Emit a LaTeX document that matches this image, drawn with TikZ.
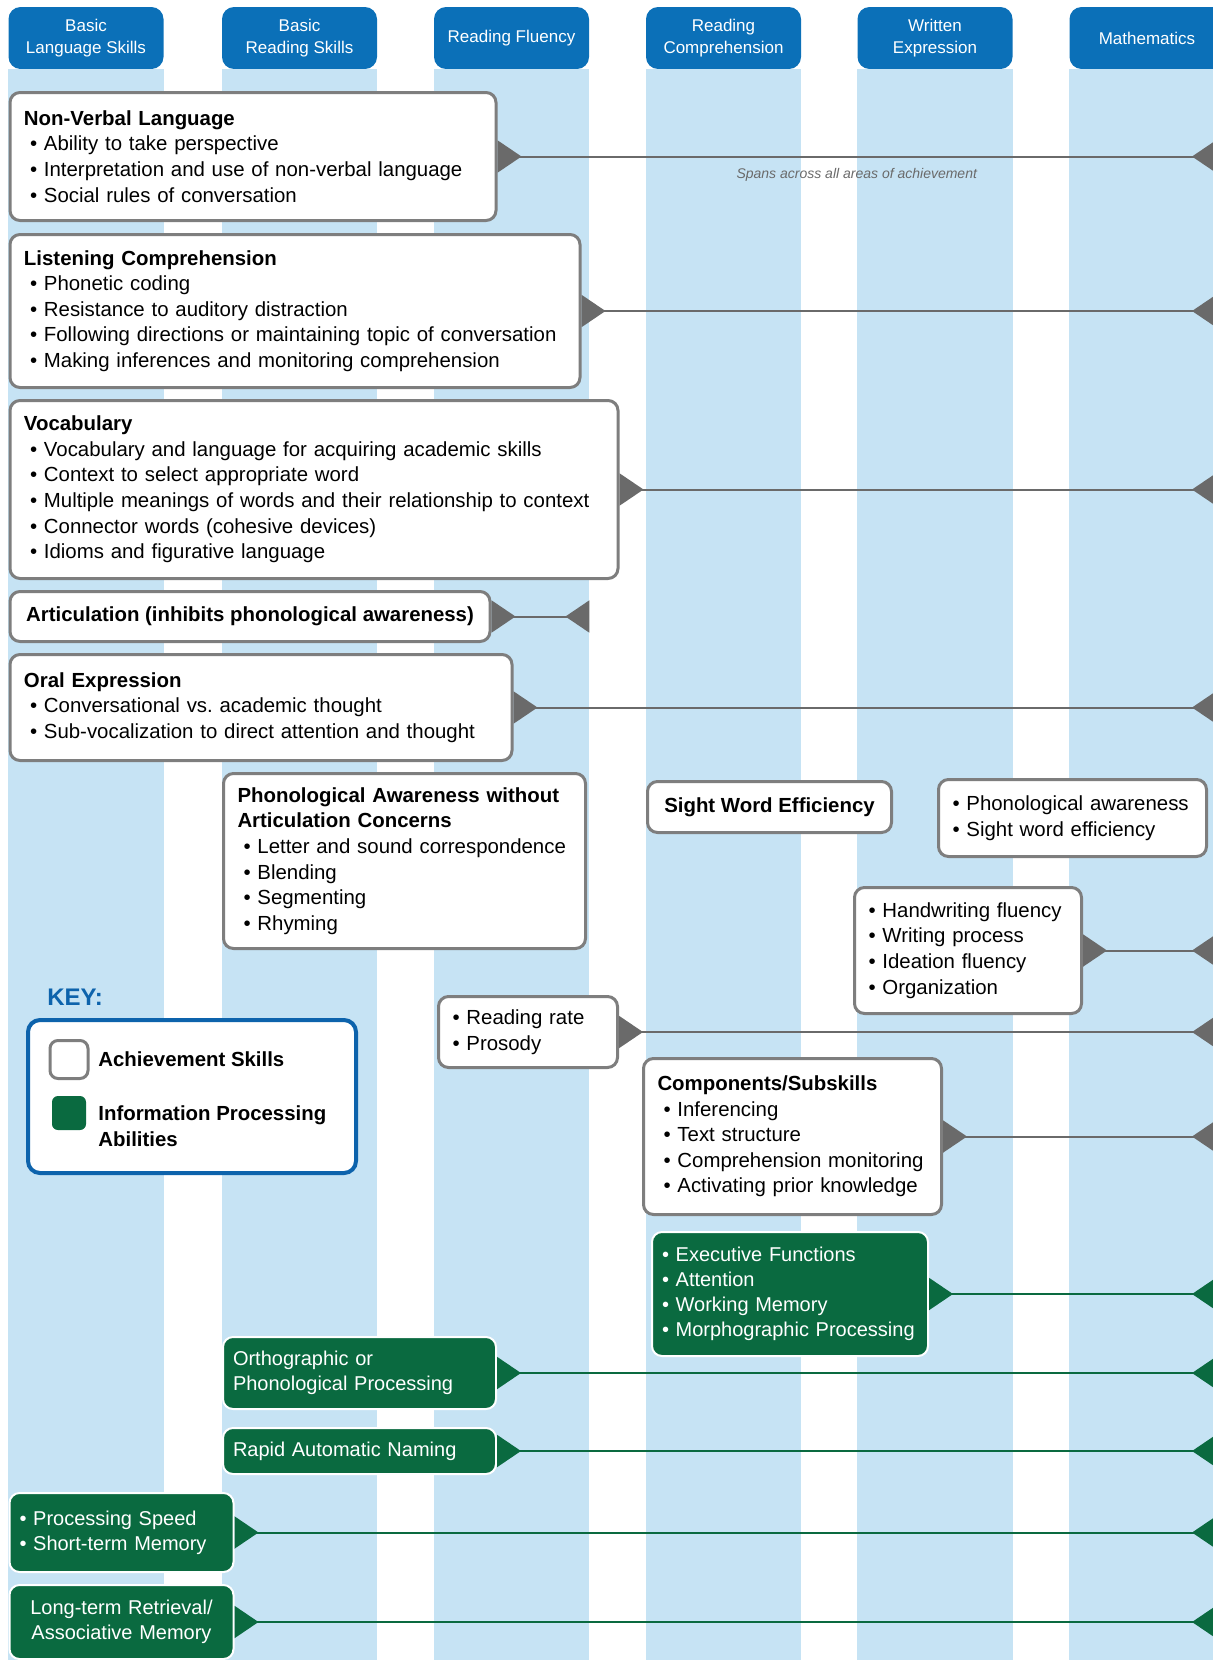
\documentclass[tikz,border=0pt]{standalone}
\usepackage{fontspec}
\setmainfont{Liberation Sans}
\usetikzlibrary{arrows.meta,positioning}
\definecolor{colblue}{HTML}{0B70B8}
\definecolor{stripblue}{HTML}{C6E3F4}
\definecolor{boxgray}{HTML}{7E7E7E}
\definecolor{linkgray}{HTML}{6A6A6A}
\definecolor{ipgreen}{HTML}{0A6A40}
\definecolor{keyblue}{HTML}{0D63AC}
\newcommand{\itm}{\hspace*{3pt}\textbullet\ }
\newcommand{\bul}{\textbullet\ }
\hyphenpenalty=10000
\exhyphenpenalty=10000
\begin{document}
\begin{tikzpicture}[x=0.5pt,y=-0.5pt,
  header/.style={fill=colblue, rounded corners=6pt, text=white, align=center,
    minimum width=77.5pt, minimum height=31pt, font=\fontsize{8.5}{11}\selectfont},
  skill/.style={draw=boxgray, line width=1.5pt, fill=white, rounded corners=5pt,
    anchor=north west, align=left, inner xsep=7pt, inner ysep=0pt,
    font=\fontsize{10.2}{12.8}\selectfont},
  ability/.style={skill, draw=white, line width=1pt, fill=ipgreen, text=white,
    inner xsep=5pt, font=\fontsize{10}{12.6}\selectfont},
  link/.style={draw=linkgray, line width=1pt,
    arrows={Triangle[reversed,length=12pt,width=16pt]-Triangle[reversed,length=12pt,width=16pt]}},
  glink/.style={link, draw=ipgreen}
]
\useasboundingbox (0,0) rectangle (1212,1660);
\coordinate (bottom) at (0,1660);
\coordinate (edge) at (1216,0);

% area headers and their columns
\node[header] (hLang) at (86,38) {Basic\\Language Skills};
\node[header] (hRead) at (299.5,38) {Basic\\Reading Skills};
\node[header] (hFlu) at (511.5,38) {Reading Fluency};
\node[header] (hComp) at (723.5,38) {Reading\\Comprehension};
\node[header] (hWrit) at (935,38) {Written\\Expression};
\node[header] (hMath) at (1147,38) {Mathematics};
\foreach \h in {hLang,hRead,hFlu,hComp,hWrit,hMath}
  \fill[stripblue] (\h.south west) rectangle (\h.south east |- bottom);

% achievement skills
\node[skill, text width=229pt, minimum height=64pt] (nvl) at (8.5,91)
  {\textbf{Non-Verbal Language}\\
   \itm Ability to take perspective\\
   \itm Interpretation and use of non-verbal language\\
   \itm Social rules of conversation};
\node[skill, text width=271pt, minimum height=76.5pt] (lc) at (8.5,233)
  {\textbf{Listening Comprehension}\\
   \itm Phonetic coding\\
   \itm Resistance to auditory distraction\\
   \itm Following directions or maintaining topic of conversation\\
   \itm Making inferences and monitoring comprehension};
\node[skill, text width=290pt, minimum height=89pt] (voc) at (8.5,399)
  {\textbf{Vocabulary}\\
   \itm Vocabulary and language for acquiring academic skills\\
   \itm Context to select appropriate word\\
   \itm Multiple meanings of words and their relationship to context\\
   \itm Connector words (cohesive devices)\\
   \itm Idioms and figurative language};
\node[skill, minimum width=240pt, minimum height=25pt] (art) at (8.5,590)
  {\textbf{Articulation (inhibits phonological awareness)}};
\node[skill, text width=237pt, minimum height=53pt] (oe) at (8.5,653)
  {\textbf{Oral Expression}\\
   \itm Conversational vs.\ academic thought\\
   \itm Sub-vocalization to direct attention and thought};
\node[skill, text width=167pt, minimum height=87.5pt] (pa) at (222,772)
  {\textbf{Phonological Awareness without}\\
   \textbf{Articulation Concerns}\\
   \itm Letter and sound correspondence\\
   \itm Blending\\
   \itm Segmenting\\
   \itm Rhyming};
\node[skill, minimum width=122pt, minimum height=25.5pt] (swe) at (646,780)
  {\textbf{Sight Word Efficiency}};
\node[skill, text width=120pt, minimum height=38.5pt] (pasw) at (937,778)
  {\bul Phonological awareness\\
   \bul Sight word efficiency};
\node[skill, text width=99.5pt, minimum height=63pt] (hw) at (853,886)
  {\bul Handwriting fluency\\
   \bul Writing process\\
   \bul Ideation fluency\\
   \bul Organization};
\node[skill, text width=75.5pt, minimum height=35.5pt] (rr) at (437,995)
  {\bul Reading rate\\
   \bul Prosody};
\node[skill, text width=135pt, minimum height=78pt] (cs) at (642,1057)
  {\textbf{Components/Subskills}\\
   \itm Inferencing\\
   \itm Text structure\\
   \itm Comprehension monitoring\\
   \itm Activating prior knowledge};

% information processing abilities
\node[ability, text width=128pt, minimum height=62pt] (ef) at (651,1231)
  {\bul Executive Functions\\
   \bul Attention\\
   \bul Working Memory\\
   \bul Morphographic Processing};
\node[ability, text width=126.5pt, minimum height=36pt] (opp) at (222,1336)
  {Orthographic or\\Phonological Processing};
\node[ability, text width=126.5pt, minimum height=23pt] (ran) at (222,1427)
  {Rapid Automatic Naming};
\node[ability, text width=102pt, minimum height=39.5pt] (ps) at (8.5,1492)
  {\bul Processing Speed\\
   \bul Short-term Memory};
\node[ability, align=center, text width=102pt, minimum height=37pt] (ltr) at (8.5,1584)
  {Long-term Retrieval/\\Associative Memory};

% connectors
\draw[link] (nvl.east) -- (nvl.east -| edge)
  node[midway, below=2pt, font=\fontsize{7}{8}\selectfont\itshape, text=linkgray] (span)
  {Spans across all areas of achievement};
\draw[link] (lc.east) -- (lc.east -| edge);
\draw[link] (voc.east) -- (voc.east -| edge);
\draw[link] (art.east) -- (art.east -| hFlu.east);
\draw[link] (oe.east) -- (oe.east -| edge);
\draw[link] (hw.east) -- (hw.east -| edge);
\draw[link] (rr.east) -- (rr.east -| edge);
\draw[link] (cs.east) -- (cs.east -| edge);
\draw[glink] (ef.east) -- (ef.east -| edge);
\draw[glink] (opp.east) -- (opp.east -| edge);
\draw[glink] (ran.east) -- (ran.east -| edge);
\draw[glink] (ps.east) -- (ps.east -| edge);
\draw[glink] (ltr.east) -- (ltr.east -| edge);

% key
\node[anchor=west, inner sep=0pt, text=keyblue, font=\bfseries\fontsize{12}{14}\selectfont] (keyT) at (47,997) {KEY:};
\node[draw=keyblue, line width=2pt, rounded corners=6pt, fill=white, anchor=north west,
  minimum width=164pt, minimum height=76.5pt] (keyBox) at (26,1018) {};
\node[draw=boxgray, line width=1.5pt, rounded corners=4pt, fill=white, inner sep=0pt,
  minimum size=19pt] (keyA) at (69,1059.5) {};
\node[fill=ipgreen, rounded corners=3pt, inner sep=0pt, minimum size=17pt] (keyI) at (69,1113) {};
\node[anchor=west, inner sep=0pt, font=\bfseries\fontsize{10.2}{12.8}\selectfont] (keyAT) at (98,1059)
  {Achievement Skills};
\node[anchor=west, inner sep=0pt, align=left, font=\bfseries\fontsize{10.2}{12.8}\selectfont] (keyIT) at (98,1126)
  {Information Processing\\Abilities};
\end{tikzpicture}
\end{document}
